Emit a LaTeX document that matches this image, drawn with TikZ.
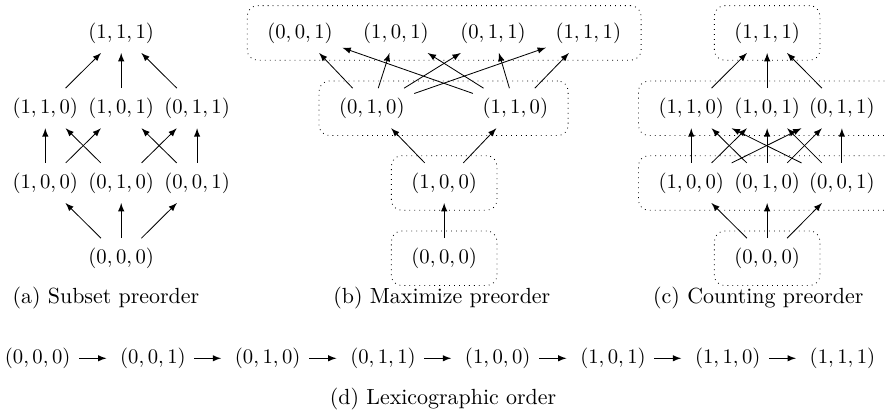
\documentclass[tikz,border=0pt]{standalone}
\usepackage{amsmath,amssymb}
\usepackage{tikz}
\usetikzlibrary{arrows,positioning,fit,calc}

\tikzset{
  vec/.style={inner sep=4.5pt},
  lexvec/.style={inner ysep=4.5pt,inner xsep=4pt},
  grp/.style={draw,dotted,rounded corners=5pt,inner xsep=5pt,inner ysep=3.5pt},
  subcap/.style={font=\fontsize{10.6}{12}\selectfont},
}

\begin{document}
\begin{tikzpicture}[>=latex]
  \useasboundingbox (0,0) rectangle (15.06,7.09);
  % (a) subset preorder
  \begin{scope}
    \node[vec] (a111) at (2.06,6.53) {$(1,1,1)$};
    \node[vec] (a110) at (0.77,5.25) {$(1,1,0)$};
    \node[vec] (a101) at (2.06,5.25) {$(1,0,1)$};
    \node[vec] (a011) at (3.35,5.25) {$(0,1,1)$};
    \node[vec] (a100) at (0.77,3.98) {$(1,0,0)$};
    \node[vec] (a010) at (2.06,3.98) {$(0,1,0)$};
    \node[vec] (a001) at (3.35,3.98) {$(0,0,1)$};
    \node[vec] (a000) at (2.06,2.70) {$(0,0,0)$};
    \draw[->] (a110) -- (a111);
    \draw[->] (a101) -- (a111);
    \draw[->] (a011) -- (a111);
    \draw[->] (a100) -- (a110);
    \draw[->] (a100) -- (a101);
    \draw[->] (a010) -- (a110);
    \draw[->] (a010) -- (a011);
    \draw[->] (a001) -- (a101);
    \draw[->] (a001) -- (a011);
    \draw[->] (a000) -- (a100);
    \draw[->] (a000) -- (a010);
    \draw[->] (a000) -- (a001);
    \node[subcap] (capa) at (1.80,2.02) {(a) Subset preorder};
  \end{scope}
  % (b) maximize preorder
  \begin{scope}
    \node[vec] (b001) at (5.10,6.53) {$(0,0,1)$};
    \node[vec] (b101) at (6.73,6.53) {$(1,0,1)$};
    \node[vec] (b011) at (8.38,6.53) {$(0,1,1)$};
    \node[vec] (b111) at (10.00,6.53) {$(1,1,1)$};
    \node[vec] (b010) at (6.32,5.25) {$(0,1,0)$};
    \node[vec] (b110) at (8.76,5.25) {$(1,1,0)$};
    \node[vec] (b100) at (7.55,3.98) {$(1,0,0)$};
    \node[vec] (b000) at (7.55,2.70) {$(0,0,0)$};
    \node[grp,fit=(b001)(b111)] (bg1) {};
    \node[grp,fit=(b010)(b110)] (bg2) {};
    \node[grp,fit=(b100)] (bg3) {};
    \node[grp,fit=(b000)] (bg4) {};
    \draw[->] (b000) -- (b100);
    \draw[->] (b100) -- (b010);
    \draw[->] (b100) -- (b110);
    \draw[->] (b010) -- (b001);
    \draw[->] (b010) -- (b101);
    \draw[->] (b010) -- (b011);
    \draw[->] (b010) -- (b111);
    \draw[->] (b110) -- (b001);
    \draw[->] (b110) -- (b101);
    \draw[->] (b110) -- (b011);
    \draw[->] (b110) -- (b111);
    \node[subcap] (capb) at (7.51,2.02) {(b) Maximize preorder};
  \end{scope}
  % (c) counting preorder
  \begin{scope}
    \node[vec] (c111) at (13.04,6.53) {$(1,1,1)$};
    \node[vec] (c110) at (11.75,5.25) {$(1,1,0)$};
    \node[vec] (c101) at (13.04,5.25) {$(1,0,1)$};
    \node[vec] (c011) at (14.31,5.25) {$(0,1,1)$};
    \node[vec] (c100) at (11.75,3.98) {$(1,0,0)$};
    \node[vec] (c010) at (13.04,3.98) {$(0,1,0)$};
    \node[vec] (c001) at (14.31,3.98) {$(0,0,1)$};
    \node[vec] (c000) at (13.04,2.70) {$(0,0,0)$};
    \node[grp,fit=(c111)] (cg1) {};
    \node[grp,fit=(c110)(c011)] (cg2) {};
    \node[grp,fit=(c100)(c001)] (cg3) {};
    \node[grp,fit=(c000)] (cg4) {};
    \draw[->] (c110) -- (c111);
    \draw[->] (c101) -- (c111);
    \draw[->] (c011) -- (c111);
    \draw[->] (c100) -- (c110);
    \draw[->] (c100) -- (c101);
    \draw[->] (c100) -- (c011);
    \draw[->] (c010) -- (c110);
    \draw[->] (c010) -- (c101);
    \draw[->] (c010) -- (c011);
    \draw[->] (c001) -- (c110);
    \draw[->] (c001) -- (c101);
    \draw[->] (c001) -- (c011);
    \draw[->] (c000) -- (c100);
    \draw[->] (c000) -- (c010);
    \draw[->] (c000) -- (c001);
    \node[subcap] (capc) at (12.89,2.02) {(c) Counting preorder};
  \end{scope}
  % (d) lexicographic order
  \begin{scope}[every path/.style={shorten >=2.5pt}]
    \node[lexvec] (d000) at (0.64,1.00) {$(0,0,0)$};
    \node[lexvec] (d001) at (2.60,1.00) {$(0,0,1)$};
    \node[lexvec] (d010) at (4.55,1.00) {$(0,1,0)$};
    \node[lexvec] (d011) at (6.51,1.00) {$(0,1,1)$};
    \node[lexvec] (d100) at (8.46,1.00) {$(1,0,0)$};
    \node[lexvec] (d101) at (10.42,1.00) {$(1,0,1)$};
    \node[lexvec] (d110) at (12.37,1.00) {$(1,1,0)$};
    \node[lexvec] (d111) at (14.32,1.00) {$(1,1,1)$};
    \draw[->] (d000) -- (d001);
    \draw[->] (d001) -- (d010);
    \draw[->] (d010) -- (d011);
    \draw[->] (d011) -- (d100);
    \draw[->] (d100) -- (d101);
    \draw[->] (d101) -- (d110);
    \draw[->] (d110) -- (d111);
    \node[subcap] (capd) at (7.53,0.31) {(d) Lexicographic order};
  \end{scope}
\end{tikzpicture}
\end{document}
